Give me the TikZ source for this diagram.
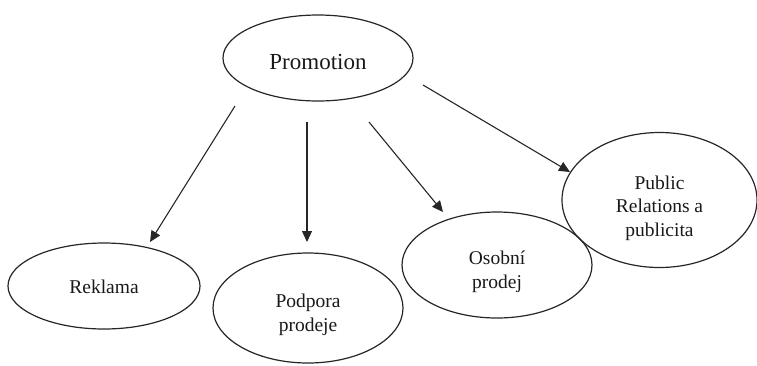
\documentclass[tikz,border=0pt]{standalone}
\usepackage{fontspec}
\setmainfont{Liberation Serif}
\usetikzlibrary{shapes.geometric,arrows.meta}
\begin{document}
\begin{tikzpicture}[x=1pt,y=-1pt,
  oval/.style={draw=black!85,line width=1.2pt,ellipse,inner sep=0pt},
  txt/.style={inner sep=0pt,align=center,text=black!90,font=\fontsize{19.5}{23.5}\selectfont},
  conn/.style={draw=black!85,line width=1.1pt,-{Triangle[length=11pt,width=10pt]}}]
\useasboundingbox (0,0) rectangle (757,365);
\node[oval,minimum width=190pt,minimum height=86pt] (promo) at (318,58) {};
\node[txt,font=\fontsize{23}{27}\selectfont] (promot) at (318,62) {Promotion};
\node[oval,minimum width=192pt,minimum height=86pt] (rek) at (104,286) {};
\node[txt] (rekt) at (104,287) {Reklama};
\node[oval,minimum width=190pt,minimum height=110pt] (pod) at (308,308) {};
\node[txt] (podt) at (308,315) {Podpora\\prodeje};
\node[oval,minimum width=190pt,minimum height=106pt] (oso) at (497,265) {};
\node[txt] (osot) at (497,272) {Osobní\\prodej};
\node[oval,minimum width=195pt,minimum height=135pt] (pr) at (659.5,200) {};
\node[txt] (prt) at (659.5,208) {Public\\Relations a\\publicita};
\coordinate (s1) at (235,106); \coordinate (e1) at (150,242);
\coordinate (s2) at (307,122); \coordinate (e2) at (307,242);
\coordinate (s3) at (369,122); \coordinate (e3) at (443,212);
\coordinate (s4) at (423,85);  \coordinate (e4) at (570,172);
\draw[conn] (s1) -- (e1);
\draw[conn] (s2) -- (e2);
\draw[conn] (s3) -- (e3);
\draw[conn] (s4) -- (e4);
\end{tikzpicture}
\end{document}
